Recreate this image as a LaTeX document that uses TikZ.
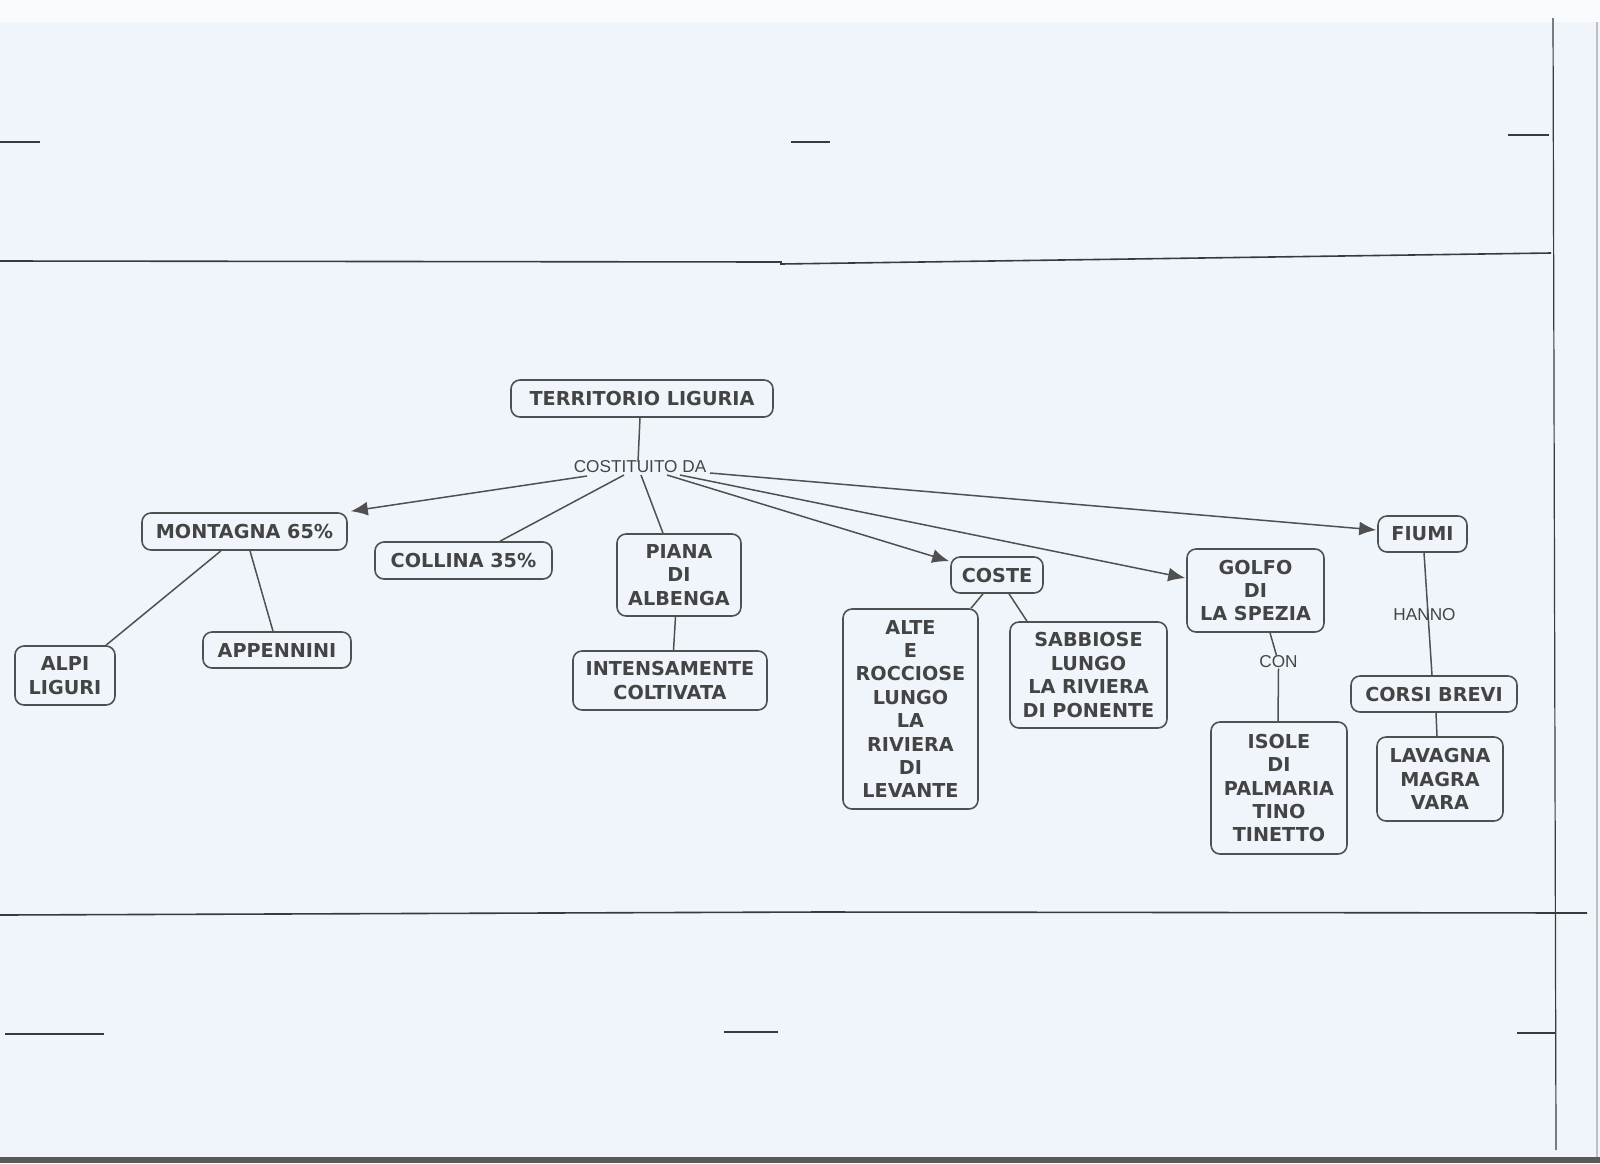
\documentclass[tikz,border=0pt]{standalone}
\usepackage{fontspec}
\newfontfamily\nodefont{DejaVu Sans}
\newfontfamily\labfont{Liberation Sans}
\usetikzlibrary{arrows.meta,calc}
\definecolor{bg}{HTML}{F0F5FC}
\definecolor{ink}{HTML}{444444}
\definecolor{edgec}{HTML}{505050}
\definecolor{scan}{HTML}{3A3A3A}
\begin{document}
\begin{tikzpicture}[x=0.5pt,y=-0.5pt,
 box/.style={draw=edgec, line width=0.8pt, rounded corners=4.5pt, fill=bg, text=ink,
   font=\nodefont\bfseries\fontsize{9.6}{11.7}\selectfont, align=center, inner sep=0pt},
 lab/.style={text=ink, font=\labfont\fontsize{8.6}{10}\selectfont, inner sep=0pt},
 conn/.style={draw=edgec, line width=0.75pt},
 arr/.style={conn, -{Latex[length=8.5pt,width=7pt]}},
 scanline/.style={draw=scan, line width=0.8pt}]
\useasboundingbox (0,0) rectangle (1600,1163);
% page background (scan)
\fill[bg] (0,0) rectangle (1600,1163);
\fill[white!60!bg] (0,0) rectangle (1600,22);
\fill[black!65] (0,1157) rectangle (1600,1163);
\draw[scanline] (0,261) -- (781,262) -- (781,264) -- (1551,253);
\draw[scanline] (0,915) -- (820,912) -- (1587,913);
\draw[scanline, line width=0.6pt] (1553,18) -- (1556,1150);
\draw[draw=gray!50, line width=0.6pt] (1597,22) -- (1597,1157);
\draw[scanline] (0,142) -- (40,142);
\draw[scanline] (791,142) -- (830,142);
\draw[scanline] (1508,135) -- (1549,135);
\draw[scanline] (5,1034) -- (104,1034);
\draw[scanline] (724,1032) -- (778,1032);
\draw[scanline] (1517,1033) -- (1556,1033);

% nodes
\node[box, minimum width=131pt, minimum height=18.5pt] (terr) at (642,398.5) {TERRITORIO LIGURIA};
\node[lab] (lbl) at (640,467) {COSTITUITO DA};
\node[box, minimum width=102.5pt, minimum height=18.5pt] (mont) at (244.5,531.5) {MONTAGNA 65\%};
\node[box, minimum width=50pt, minimum height=29.5pt] (alpi) at (65,675.5) {ALPI\\LIGURI};
\node[box, minimum width=74pt, minimum height=18pt] (app) at (277,650) {APPENNINI};
\node[box, minimum width=88.5pt, minimum height=18.5pt] (coll) at (463.5,560.5) {COLLINA 35\%};
\node[box, minimum width=62pt, minimum height=41pt] (piana) at (679,575) {PIANA\\DI\\ALBENGA};
\node[box, minimum width=97pt, minimum height=29.5pt] (inten) at (670,680.5) {INTENSAMENTE\\COLTIVATA};
\node[box, minimum width=46pt, minimum height=18pt] (coste) at (997,575) {COSTE};
\node[box, minimum width=67.5pt, minimum height=100pt] (alte) at (910.5,709) {ALTE\\E\\ROCCIOSE\\LUNGO\\LA\\RIVIERA\\DI\\LEVANTE};
\node[box, minimum width=78.5pt, minimum height=53pt] (sabb) at (1088.5,675) {SABBIOSE\\LUNGO\\LA RIVIERA\\DI PONENTE};
\node[box, minimum width=68.5pt, minimum height=41.5pt] (golfo) at (1255.5,590.5) {GOLFO\\DI\\LA SPEZIA};
\node[lab] (con) at (1278.5,662) {CON};
\node[box, minimum width=68pt, minimum height=66pt] (isole) at (1279,788) {ISOLE\\DI\\PALMARIA\\TINO\\TINETTO};
\node[box, minimum width=44.5pt, minimum height=18pt] (fiumi) at (1422.5,534) {FIUMI};
\node[lab] (hanno) at (1424.5,615) {HANNO};
\node[box, minimum width=83pt, minimum height=18pt] (corsi) at (1434,694) {CORSI BREVI};
\node[box, minimum width=63pt, minimum height=42pt] (lav) at (1440,779) {LAVAGNA\\MAGRA\\VARA};

% connectors
\draw[conn] ($(terr.south)+(-2,0)$) -- ($(lbl.center)+(-2,-5)$);
\draw[arr] ($(lbl.center)+(-53,9)$) -- ($(mont.north east)+(3,-1)$);
\draw[conn] ($(lbl.center)+(-16,8)$) -- ($(coll.north)+(36.5,0)$);
\draw[conn] ($(lbl.center)+(1,8)$) -- ($(piana.north)+(-16,0)$);
\draw[arr] ($(lbl.center)+(27,8)$) -- ($(coste.north west)+(-1,5)$);
\draw[arr] ($(lbl.center)+(40,8)$) -- ($(golfo.west)+(-1,-12.5)$);
\draw[arr] ($(lbl.center)+(70,6)$) -- ($(fiumi.west)+(-1,-4)$);
\draw[conn] ($(mont.south)+(-23.5,0)$) -- ($(alpi.north)+(41,0)$);
\draw[conn] ($(mont.south)+(5.5,0)$) -- ($(app.north)+(-4,0)$);
\draw[conn] ($(piana.south)+(-3.5,0)$) -- ($(inten.north)+(3.5,0)$);
\draw[conn] ($(coste.south)+(-14,0)$) -- ($(alte.north)+(60.5,0)$);
\draw[conn] ($(coste.south)+(12,0)$) -- ($(sabb.north)+(-61.5,0)$);
\draw[conn] ($(golfo.south)+(14.5,0)$) -- ($(con.north)+(-2,0)$);
\draw[conn] (con.south) -- ($(isole.north)+(-1,0)$);
\draw[conn] ($(fiumi.south)+(1.5,0)$) -- ($(corsi.north)+(-2,0)$);
\draw[conn] ($(corsi.south)+(2,0)$) -- ($(lav.north)+(-3,0)$);
\end{tikzpicture}
\end{document}
